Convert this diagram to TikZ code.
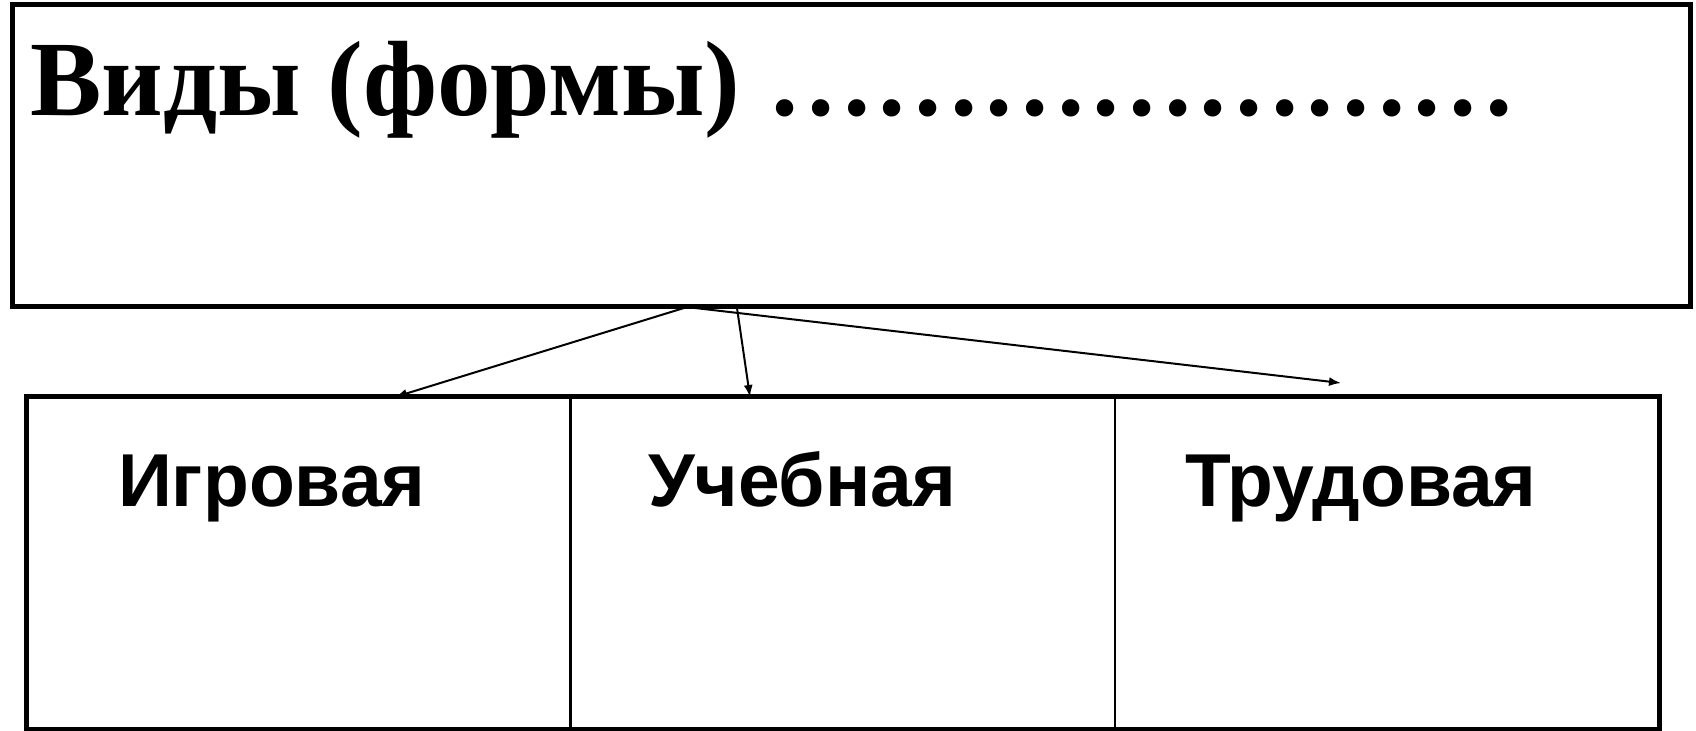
\documentclass[tikz,border=0pt]{standalone}
\usepackage{fontspec}
\setmainfont{Liberation Serif}
\setsansfont{Liberation Sans}
\usetikzlibrary{positioning,arrows.meta}

\begin{document}
\begin{tikzpicture}[x=0.5pt, y=-0.5pt, node distance=0pt, inner sep=0pt, outer sep=0pt]
	\useasboundingbox (0,0) rectangle (1696,731);
	\node[rectangle, draw, line width=2.5pt, anchor=north west, minimum width=839pt, minimum height=151pt] (vidy) at (12,5) {};
	\node[anchor=base west, font=\bfseries\fontsize{53.5}{62}\selectfont] (title) at (30,116) {Виды (формы) …………………};

	\node[rectangle, draw, line width=1.1pt, anchor=north west, minimum width=272.2pt, minimum height=166pt] (igra) at (26,397) {};
	\node[rectangle, draw, line width=1.1pt, right=of igra, minimum width=272.2pt, minimum height=166pt] (ucheba) {};
	\node[rectangle, draw, line width=1.1pt, right=of ucheba, minimum width=272.2pt, minimum height=166pt] (trud) {};
	\draw[line width=2.5pt] (igra.north west) rectangle (trud.south east);

	\node[anchor=base west, font=\sffamily\bfseries\fontsize{37.5}{44}\selectfont] (t1) at (118,507) {Игровая};
	\node[anchor=base west, font=\sffamily\bfseries\fontsize{37.5}{44}\selectfont] (t2) at (648,507) {Учебная};
	\node[anchor=base west, font=\sffamily\bfseries\fontsize{37.5}{44}\selectfont] (t3) at (1185,507) {Трудовая};

	\coordinate (s1) at (684,308);
	\coordinate (s2) at (737,308);
	\coordinate (s3) at (695,308);
	\coordinate (e1) at (395,397);
	\coordinate (e2) at (750,397);
	\coordinate (e3) at (1341,383);
	\draw[-{Latex[length=6pt, width=4.5pt]}, line width=1pt] (s1) -- (e1);
	\draw[-{Latex[length=6pt, width=4.5pt]}, line width=1pt] (s2) -- (e2);
	\draw[-{Latex[length=6pt, width=4.5pt]}, line width=1pt] (s3) -- (e3);
\end{tikzpicture}
\end{document}
